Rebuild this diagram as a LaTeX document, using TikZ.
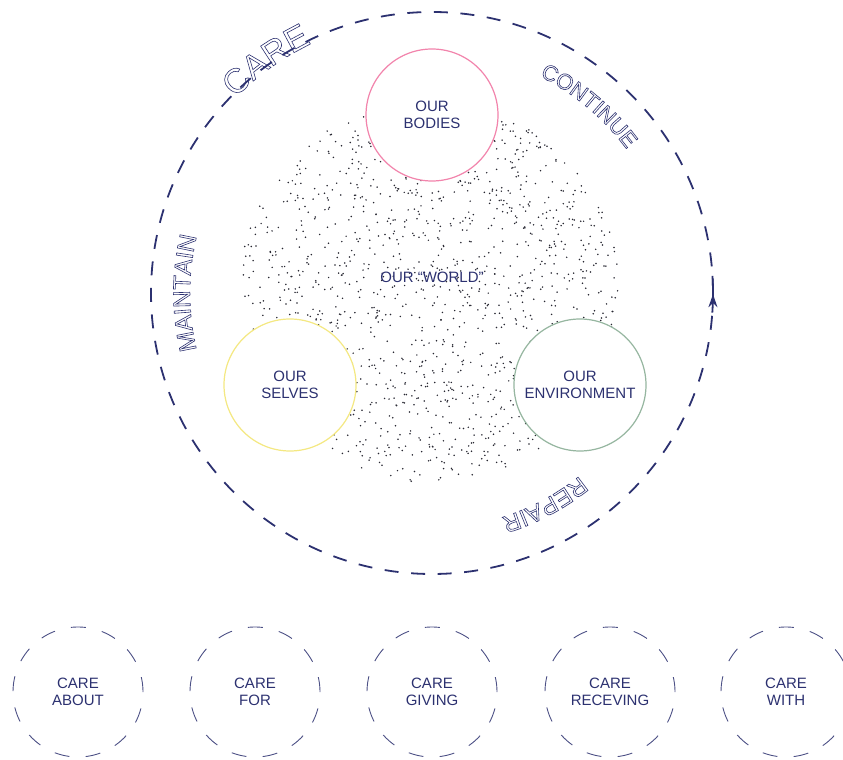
\documentclass[tikz,border=0pt]{standalone}
\usepackage{fontspec}
\setmainfont{Liberation Sans}
\usetikzlibrary{arrows.meta, decorations.markings}

\definecolor{navy}{RGB}{44,49,112}
\definecolor{bodypink}{RGB}{242,132,172}
\definecolor{selfyellow}{RGB}{244,232,130}
\definecolor{envgreen}{RGB}{150,182,160}
\definecolor{speck}{RGB}{40,40,50}

% hollow letters for the verbs round the ring (stroked, not filled)
\newcommand{\ol}[1]{\special{pdf:code 1 Tr 0.6 w}#1\special{pdf:code 0 Tr}}

\begin{document}
\begin{tikzpicture}[x=1pt, y=1pt,
    txt/.style={font=\fontsize{15}{17.5}\selectfont, text=navy, align=center},
    realm/.style={circle, txt, minimum size=132pt, inner sep=0pt, fill=white, line width=1.2pt},
    mode/.style={circle, txt, minimum size=130pt, inner sep=0pt, draw=navy!85, line width=0.9pt, dash pattern=on 15pt off 16.4pt},
    ring/.style={draw=navy, line width=1.8pt, dash pattern=on 14pt off 12.6pt},
    hollow/.style={font=\fontsize{#1}{#1}\selectfont, text=navy, inner sep=0pt, anchor=base}
]
\useasboundingbox (0,0) rectangle (843,760);

\coordinate (hub) at (432,467);
\coordinate (cloud) at (430,468);

% speckled world
\pgfmathsetseed{2718}
\foreach \k in {1,...,1400}{
    \pgfmathsetmacro{\rr}{191*sqrt(rnd)}
    \pgfmathsetmacro{\aa}{360*rnd}
    \fill[speck] (cloud) ++(\aa:\rr) circle[radius=0.85];
}
\node[txt] (world) at (432,483) {OUR “WORLD”};

% the three realms
\node[realm, draw=bodypink] (bodies) at (432,645) {OUR\\BODIES};
\node[realm, draw=selfyellow] (selves) at (290,375) {OUR\\SELVES};
\node[realm, draw=envgreen] (environment) at (580,375) {OUR\\ENVIRONMENT};

% words along the ring, one letter at a time (clockwise, tops outward)
\foreach \l/\a [count=\k] in {C/132.73, A/127.85, R/122.96, E/118.08}
    \node[hollow=34, rotate=\a-90] (care\k) at ([shift={(\a:277)}]hub) {\ol{\l}};
\foreach \l/\a [count=\k] in {C/61.72, O/57.81, N/53.91, T/50.43, I/48.12, N/45.52, U/41.75, E/38.14}
    \node[hollow=22, rotate=\a-90] (continue\k) at ([shift={(\a:242)}]hub) {\ol{\l}};
\foreach \l/\a [count=\k] in {R/-53.22, E/-57.28, P/-61.19, A/-65.09, I/-67.85, R/-70.78}
    \node[hollow=24, rotate=\a-90] (repair\k) at ([shift={(\a:235)}]hub) {\ol{\l}};
\foreach \l/\a [count=\k] in {M/191.21, A/186.95, I/184.26, N/181.42, T/177.63, A/174.0, I/171.32, N/168.48}
    \node[hollow=24, rotate=\a-90] (maintain\k) at ([shift={(\a:242)}]hub) {\ol{\l}};

% care ring
\draw[ring] (hub) circle[radius=281];
\draw[navy, line width=1.8pt, postaction={decorate}, decoration={markings,
    mark=at position 0.5 with {\arrow{Stealth[length=13pt, width=9pt]}}}]
    (hub) ++(-4:281) arc[start angle=-4, end angle=3.5, radius=281];

% modes of care
\node[mode] (about) at (78,68) {CARE\\ABOUT};
\node[mode] (for) at (255,68) {CARE\\FOR};
\node[mode] (giving) at (432,68) {CARE\\GIVING};
\node[mode] (receving) at (610,68) {CARE\\RECEVING};
\node[mode] (with) at (786,68) {CARE\\WITH};

\end{tikzpicture}
\end{document}
